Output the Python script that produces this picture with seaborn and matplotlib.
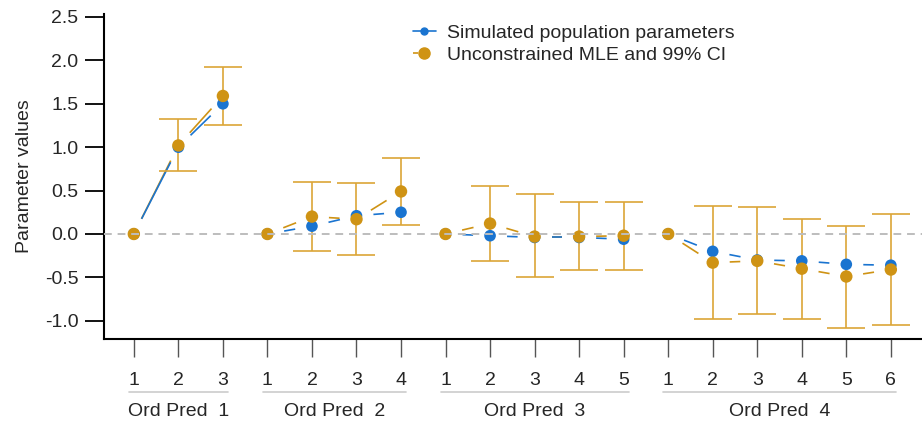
import numpy as np
import pandas as pd
import matplotlib.pyplot as plt
import matplotlib.transforms as mtransforms
from matplotlib.lines import Line2D
import seaborn as sns

# Values (one block per ordinal predictor)
group_names = ["Ord Pred  1", "Ord Pred  2", "Ord Pred  3", "Ord Pred  4"]

sim_1 = [0.0, 1.00, 1.50]
mle_1 = [0.0, 1.02, 1.59]
lo_1 = [np.nan, 0.72, 1.25]
hi_1 = [np.nan, 1.32, 1.92]

sim_2 = [0.0, 0.09, 0.21, 0.25]
mle_2 = [0.0, 0.20, 0.17, 0.49]
lo_2 = [np.nan, -0.20, -0.24, 0.10]
hi_2 = [np.nan, 0.60, 0.59, 0.87]

sim_3 = [0.0, -0.02, -0.04, -0.04, -0.06]
mle_3 = [0.0, 0.12, -0.03, -0.03, -0.02]
lo_3 = [np.nan, -0.31, -0.50, -0.42, -0.42]
hi_3 = [np.nan, 0.55, 0.46, 0.37, 0.37]

sim_4 = [0.0, -0.20, -0.30, -0.31, -0.35, -0.36]
mle_4 = [0.0, -0.33, -0.31, -0.40, -0.49, -0.41]
lo_4 = [np.nan, -0.98, -0.92, -0.98, -1.08, -1.05]
hi_4 = [np.nan, 0.32, 0.31, 0.17, 0.09, 0.23]

sims = [sim_1, sim_2, sim_3, sim_4]
mles = [mle_1, mle_2, mle_3, mle_4]
los = [lo_1, lo_2, lo_3, lo_4]
his = [hi_1, hi_2, hi_3, hi_4]

BLUE = "#1a74d0"
GOLD = "#cf9314"
GOLD_CI = "#dba537"
FS = 14

# Long table: one row per level, positions laid out group after group
rows = []
pos = 0
for g, name in enumerate(group_names):
    for k in range(len(sims[g])):
        rows.append(dict(group=name, level=k + 1, pos=pos, sim=sims[g][k],
                         mle=mles[g][k], lo=los[g][k], hi=his[g][k]))
        pos += 1
df = pd.DataFrame(rows)

sns.set_theme(style="white")
plt.rcParams['font.family'] = ['Liberation Sans', 'DejaVu Sans']

fig = plt.figure(figsize=(9.22, 4.25), dpi=100)
ax = fig.add_axes([104 / 922, 86 / 425, 818 / 922, 325.5 / 425])
ax.set_xlim(-0.67, 17.7)
ax.set_ylim(-1.21, 2.54)


def connect(x, y, color, gap=17):
    """Join neighbouring points with solid segments that stop short of the markers"""
    pts = ax.transData.transform(np.column_stack([x, y]))
    inv = ax.transData.inverted()
    for p0, p1 in zip(pts[:-1], pts[1:]):
        d = p1 - p0
        L = np.hypot(*d)
        if L <= 2 * gap:
            continue
        a, b = inv.transform([p0 + d / L * gap, p1 - d / L * gap])
        ax.plot([a[0], b[0]], [a[1], b[1]], color=color, linewidth=1.2,
                solid_capstyle='butt', zorder=2)


for name in group_names:
    d = df[df['group'] == name]
    connect(d['pos'].values, d['mle'].values, GOLD)
    connect(d['pos'].values, d['sim'].values, BLUE)

ci = df.dropna(subset=['lo'])
ax.errorbar(ci['pos'], (ci['lo'] + ci['hi']) / 2, yerr=(ci['hi'] - ci['lo']) / 2,
            fmt='none', ecolor=GOLD_CI, elinewidth=1.2, capsize=13.5,
            capthick=1.2, zorder=3)

sns.scatterplot(data=df, x='pos', y='sim', color=BLUE, s=70, edgecolor='none',
                ax=ax, zorder=4)
sns.scatterplot(data=df, x='pos', y='mle', color=GOLD, s=80, edgecolor='none',
                ax=ax, zorder=5)

ax.axhline(0, color='#bdbdbd', linestyle=(0, (4, 3)), linewidth=1.4, zorder=6)

ax.set_xlim(-0.67, 17.7)
ax.set_ylim(-1.21, 2.54)
yt = np.arange(-1.0, 2.51, 0.5)
ax.set_yticks(yt)
ax.set_yticklabels([f"{v:.1f}" for v in yt])
ax.set_xticks(df['pos'])
ax.set_xticklabels(df['level'])
ax.tick_params(axis='y', direction='out', length=13.5, width=1.3, color='black',
               labelsize=FS, pad=5, left=True)
ax.tick_params(axis='x', direction='out', length=13, width=1.0, color='#555555',
               labelsize=FS, pad=11, bottom=True)

for side in ['top', 'right']:
    ax.spines[side].set_visible(False)
for side in ['left', 'bottom']:
    ax.spines[side].set_color('black')
    ax.spines[side].set_linewidth(1.5)

ax.set_xlabel('')
ax.set_ylabel('Parameter values', fontsize=FS)
ax.yaxis.set_label_coords(-0.087, 0.5)

# Group brackets and labels under the level numbers
trans = mtransforms.blended_transform_factory(ax.transData, ax.transAxes)
for name in group_names:
    d = df[df['group'] == name]
    x0, x1 = d['pos'].min(), d['pos'].max()
    ax.plot([x0 - 0.11, x1 + 0.11], [-0.163, -0.163], color='#cccccc',
            linewidth=1.2, transform=trans, clip_on=False)
    ax.text((x0 + x1) / 2, -0.222, name, transform=trans, ha='center',
            va='center', fontsize=FS)

handles = [
    Line2D([], [], color=BLUE, marker='o', markersize=5, linestyle='-', linewidth=1.2),
    Line2D([], [], color=GOLD, marker='o', markersize=8, linestyle=(0, (3, 20)),
           linewidth=1.2),
]
ax.legend(handles, ["Simulated population parameters", "Unconstrained MLE and 99% CI"],
          loc='upper left', bbox_to_anchor=(0.378, 0.966), frameon=False, fontsize=FS,
          handlelength=1.15, handletextpad=0.6, labelspacing=0.2,
          borderaxespad=0, borderpad=0)

plt.savefig('out.png', dpi=100)
plt.close()
